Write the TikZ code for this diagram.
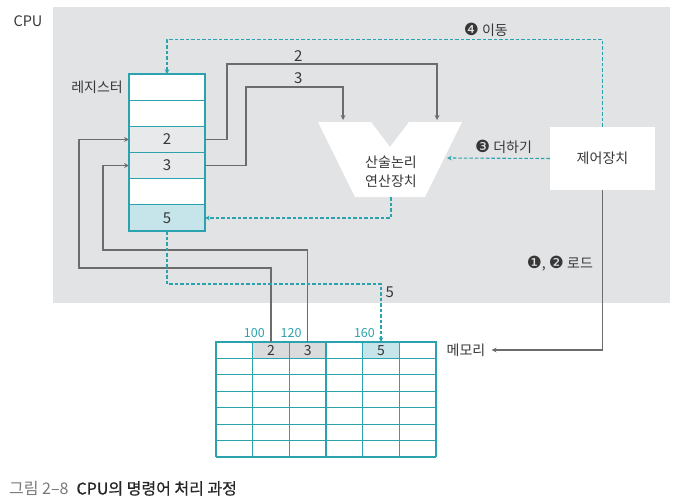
\documentclass[tikz,border=0pt]{standalone}
\usepackage{fontspec}
\setmainfont{Noto Sans CJK KR}
\newfontfamily\dingfont[Scale=1.2]{DejaVu Sans}
\newfontfamily\capfont[FakeBold=0.8]{Noto Sans CJK KR}
\usetikzlibrary{shapes,arrows,positioning,calc}

\definecolor{cpugray}{RGB}{226,227,229}
\definecolor{regfill}{RGB}{232,233,234}
\definecolor{tealline}{RGB}{43,163,174}
\definecolor{tealfill}{RGB}{198,229,234}
\definecolor{wiregray}{RGB}{108,108,108}
\definecolor{cellgray}{RGB}{218,219,221}
\definecolor{textgray}{RGB}{55,55,55}
\definecolor{capgray}{RGB}{120,120,120}

\begin{document}
\begin{tikzpicture}[x=1pt, y=-1pt, node distance=0pt, text=textgray]

% Define styles
\tikzstyle{cpubox} = [rectangle, minimum width=617pt, minimum height=296pt, fill=cpugray, draw=none]
\tikzstyle{reg} = [rectangle, minimum width=76pt, minimum height=26.17pt, outer sep=0pt, inner sep=0pt, draw=tealline, line width=1.2pt, fill=white, font=\fontsize{15}{17}\selectfont]
\tikzstyle{cell} = [rectangle, minimum width=36.67pt, minimum height=16.43pt, outer sep=0pt, inner sep=0pt, draw=tealline, line width=1.2pt, font=\fontsize{14}{15}\selectfont]
\tikzstyle{unit} = [rectangle, minimum width=105pt, minimum height=63pt, fill=white, font=\fontsize{14}{16}\selectfont]
\tikzstyle{label} = [font=\fontsize{14}{16}\selectfont, inner sep=1pt]
\tikzstyle{num} = [font=\fontsize{15}{17}\selectfont, inner sep=1pt]
\tikzstyle{addr} = [font=\fontsize{12.5}{14}\selectfont, text=tealline, inner sep=1pt]
\tikzstyle{memline} = [draw=tealline, line width=1.2pt]
\tikzstyle{arrow} = [draw=wiregray, line width=1.2pt, ->, >=stealth]
\tikzstyle{dasharrow} = [draw=tealline, line width=1.1pt, dash pattern=on 3.5pt off 2pt, ->, >=stealth]

\useasboundingbox (0,0) rectangle (680,501);

% CPU area
\node (cpu) [cpubox] at (361.5,155) {};
\node (cpulabel) [label, font=\fontsize{14.5}{16}\selectfont] at (28,21.5) {CPU};

% Registers
\node (reg1) [reg] at (167,87.1) {};
\node (reg2) [reg, below=of reg1] {};
\node (reg3) [reg, below=of reg2, fill=regfill] {2};
\node (reg4) [reg, below=of reg3, fill=regfill] {3};
\node (reg5) [reg, below=of reg4] {};
\node (reg6) [reg, below=of reg5, fill=tealfill] {5};
\node (reglabel) [label, left=5pt of reg1] {레지스터};

% ALU
\fill [white] (318,122) -- (371,122) -- (390,147) -- (409,122) -- (462,122) -- (425,197) -- (355,197) -- cycle;
\node (alu) [label, align=center, font=\fontsize{14}{19}\selectfont] at (391,172) {산술논리\\연산장치};
\coordinate (aluinL) at (343,120);
\coordinate (aluinR) at (437,120);
\coordinate (aluadd) at (447,158);
\coordinate (aluout) at (391,197);

% Control unit
\node (ctrl) [unit] at (602.5,158.5) {제어장치};

% Memory
\node (mem1) [cell] at (234.33,350.2) {};
\node (mem2) [cell, right=of mem1, fill=cellgray] {2};
\node (mem3) [cell, right=of mem2, fill=cellgray] {3};
\node (mem4) [cell, right=of mem3] {};
\node (mem5) [cell, right=of mem4, fill=tealfill] {5};
\node (mem6) [cell, right=of mem5] {};
\foreach \i in {1,...,6}
  \draw [memline] ($(mem1.south west)+(0,\i*16.43)$) -- ($(mem6.south east)+(0,\i*16.43)$);
\foreach \n in {1,...,6}
  \draw [memline] (mem\n.south west) -- ++(0,98.6);
\draw [memline] (mem6.south east) -- ++(0,98.6);
\node (memlabel) [label] at (466,350) {메모리};

% Addresses
\node [addr, anchor=south east] at ([xshift=-5pt, yshift=3pt]mem2.north) {100};
\node [addr, anchor=south east] at ([xshift=-5pt, yshift=3pt]mem3.north) {120};
\node [addr, anchor=south east] at ([xshift=-5pt, yshift=3pt]mem5.north) {160};

% Load from memory to registers
\draw [arrow] (mem2.north) |- (79,268) |- (reg3.west);
\draw [arrow] (mem3.north) |- (103,250) |- (reg4.west);

% Registers to ALU
\draw [arrow] (reg3.east) -| (227,64) -| node[num, pos=0.17, above=1pt] {2} (aluinR);
\draw [arrow] (reg4.east) -| (246,87) -| node[num, pos=0.27, above=2pt] {3} (aluinL);

% Control signals
\draw [dasharrow] (ctrl.west) -- node[label, pos=0.45, above=3pt] {{\dingfont ❸}~더하기} (aluadd);
\draw [dasharrow] (ctrl.north) -- ++(0,-87) -| node[label, pos=0.134, above=2pt] {{\dingfont ❹}~이동} (reg1.north);
\draw [arrow] (ctrl.south) |- node[label, pos=0.23, left=8pt] {{\dingfont ❶}, {\dingfont ❷}~로드} ([xshift=5pt]memlabel.east);

% Result back to register and memory
\draw [dasharrow] (aluout) |- (reg6.east);
\draw [dasharrow] (reg6.south) -- ++(0,53) -| node[num, pos=0.57, right=3pt] {5} (mem5.north);

% Caption
\node (caption) [anchor=west, font=\fontsize{16}{18}\selectfont, inner sep=0pt] at (9,488.5) {{\color{capgray}그림 2–8}\enspace{\capfont\color{black!85} CPU의 명령어 처리 과정}};

\end{tikzpicture}
\end{document}
